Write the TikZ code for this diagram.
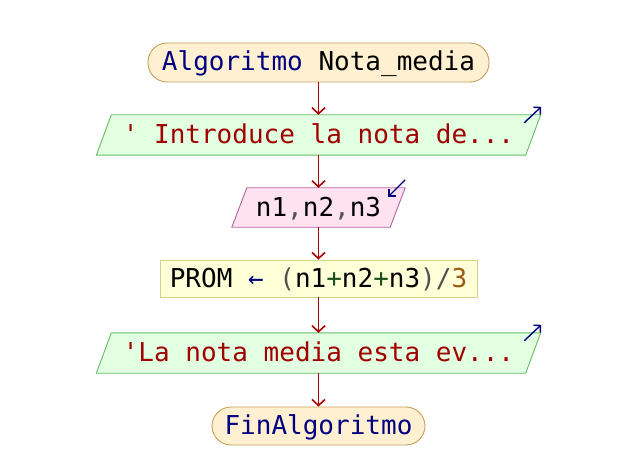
\documentclass[tikz,border=0pt]{standalone}
\usepackage{fontspec}
\setmonofont{DejaVu Sans Mono}
\usetikzlibrary{arrows.meta,backgrounds}

\definecolor{termfill}{HTML}{FFF0D2}
\definecolor{termline}{HTML}{C8A05A}
\definecolor{outfill}{HTML}{E2FFE2}
\definecolor{outline}{HTML}{64BE64}
\definecolor{infill}{HTML}{FFE2F0}
\definecolor{inline}{HTML}{B464A0}
\definecolor{procfill}{HTML}{FFFFD8}
\definecolor{procline}{HTML}{D2D28C}
\definecolor{flowred}{HTML}{AA0000}
\definecolor{strred}{HTML}{A00000}
\definecolor{kwblue}{HTML}{000080}
\definecolor{opgray}{HTML}{505050}
\definecolor{opgreen}{HTML}{1E501E}
\definecolor{numbrown}{HTML}{9A5A14}

\tikzset{
  txt/.style={font=\ttfamily\fontsize{26}{30}\selectfont, inner sep=0pt,
              text height=20pt, text depth=3pt, anchor=center},
  term/.style={txt, draw=termline, fill=termfill, line width=0.9pt,
               rounded corners=19pt},
  iobox/.style={txt},
  procbox/.style={txt, draw=procline, fill=procfill, line width=0.9pt},
  flow/.style={draw=flowred, line width=1.6pt,
               -{Straight Barb[length=6pt,width=13pt,line width=1.6pt]}},
  iomark/.style={draw=kwblue, line width=1.4pt,
               -{Straight Barb[length=5pt,width=10pt,line width=1.4pt]}},
  para/.style={line width=0.9pt}
}

\begin{document}
\begin{tikzpicture}[x=1pt,y=-1pt]
  \useasboundingbox (0,0) rectangle (635,476);

  % flowchart steps
  \node[term, minimum width=341pt, minimum height=39pt] (start) at (318.5,62.5)
    {\textcolor{kwblue}{Algoritmo} Nota\_media};
  \node[iobox, minimum width=429pt, minimum height=40pt] (out1) at (318.5,135)
    {\textcolor{strred}{' Introduce la nota de...}};
  \node[iobox, minimum width=158pt, minimum height=39pt] (in1) at (318.5,207.5)
    {n1\textcolor{opgray}{,}n2\textcolor{opgray}{,}n3};
  \node[procbox, minimum width=317pt, minimum height=37pt] (proc) at (318.5,278.5)
    {PROM \textcolor{kwblue}{←} \textcolor{opgray}{(}n1\textcolor{opgreen}{+}n2\textcolor{opgreen}{+}n3\textcolor{opgray}{)/}\textcolor{numbrown}{3}};
  \node[iobox, minimum width=429pt, minimum height=40pt] (out2) at (318.5,353)
    {\textcolor{strred}{'La nota media esta ev...}};
  \node[term, minimum width=213pt, minimum height=38pt] (stop) at (318.5,426)
    {\textcolor{kwblue}{FinAlgoritmo}};

  % slanted input/output boxes behind their text
  \begin{scope}[on background layer]
    \foreach \n/\f/\l in {out1/outfill/outline, out2/outfill/outline, in1/infill/inline}{
      \draw[para, draw=\l, fill=\f]
        ([xshift=7.5pt]\n.north west) -- ([xshift=7.5pt]\n.north east)
        -- ([xshift=-7.5pt]\n.south east) -- ([xshift=-7.5pt]\n.south west) -- cycle;
    }
  \end{scope}

  % output / input markers
  \coordinate (o1a) at ([xshift=-9pt,yshift=-8pt]out1.north east);
  \coordinate (o1b) at ([xshift=8pt,yshift=8pt]out1.north east);
  \coordinate (o2a) at ([xshift=-9pt,yshift=-8pt]out2.north east);
  \coordinate (o2b) at ([xshift=8pt,yshift=8pt]out2.north east);
  \coordinate (i1a) at ([xshift=7.5pt,yshift=8pt]in1.north east);
  \coordinate (i1b) at ([xshift=-9.5pt,yshift=-9pt]in1.north east);
  \draw[iomark] (o1a) -- (o1b);
  \draw[iomark] (o2a) -- (o2b);
  \draw[iomark] (i1a) -- (i1b);

  % connectors
  \draw[flow] (start.south) -- (out1.north);
  \draw[flow] (out1.south) -- (in1.north);
  \draw[flow] (in1.south) -- (proc.north);
  \draw[flow] (proc.south) -- (out2.north);
  \draw[flow] (out2.south) -- (stop.north);
\end{tikzpicture}
\end{document}
